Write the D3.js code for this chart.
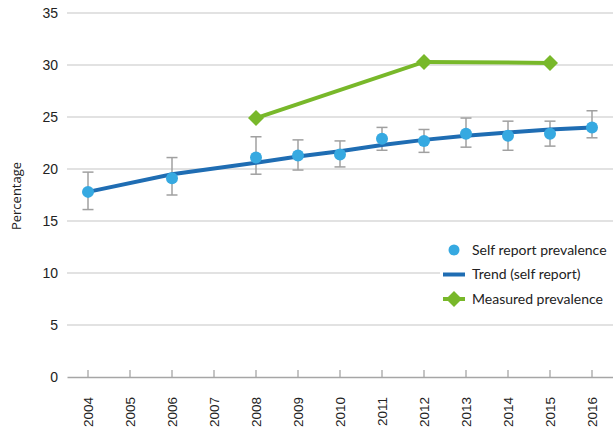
<!DOCTYPE html>
<html>
<head>
<meta charset="utf-8">
<script src="https://cdn.jsdelivr.net/npm/d3@7"></script>
<style>
  body { margin: 0; background: #fff; }
  svg { display: block; font-family: "Open Sans", "Noto Sans", sans-serif; }
</style>
</head>
<body>
<div id="chart"></div>
<script>
// Categories (years on the x axis)
var years = ["2004", "2005", "2006", "2007", "2008", "2009", "2010", "2011", "2012", "2013", "2014", "2015", "2016"];

// Self report prevalence with confidence interval
var selfYears = ["2004", "2006", "2008", "2009", "2010", "2011", "2012", "2013", "2014", "2015", "2016"];
var selfValues = [17.8, 19.1, 21.1, 21.3, 21.4, 22.9, 22.7, 23.4, 23.2, 23.4, 24.0];
var selfLow = [16.1, 17.5, 19.5, 19.9, 20.2, 21.8, 21.6, 22.1, 21.8, 22.2, 23.0];
var selfHigh = [19.7, 21.1, 23.1, 22.8, 22.7, 24.0, 23.8, 24.9, 24.6, 24.6, 25.6];

// Trend (self report)
var trendValues = [17.8, 19.5, 20.6, 21.2, 21.7, 22.3, 22.8, 23.2, 23.5, 23.8, 24.0];

// Measured prevalence
var measuredYears = ["2008", "2012", "2015"];
var measuredValues = [24.9, 30.3, 30.2];

var yTicks = [0, 5, 10, 15, 20, 25, 30, 35];
var legendLabels = ["Self report prevalence", "Trend (self report)", "Measured prevalence"];

var margin = {top: 13, right: 0, bottom: 59, left: 67},
    width = 613 - margin.left - margin.right,
    height = 436 - margin.top - margin.bottom;

var svg = d3.select("#chart").append("svg")
    .attr("width", 613)
    .attr("height", 436);

var g = svg.append("g")
    .attr("transform", "translate(" + margin.left + "," + margin.top + ")");

var x = d3.scaleBand().domain(years).range([0, width]);
var y = d3.scaleLinear().domain([0, 35]).range([height, 0]);
var cx = function(yr) { return x(yr) + x.bandwidth() / 2; };

// gridlines
g.selectAll(".grid")
    .data(yTicks.filter(function(d) { return d > 0; }))
    .enter().append("line")
    .attr("x1", 0).attr("x2", width)
    .attr("y1", function(d) { return y(d); })
    .attr("y2", function(d) { return y(d); })
    .attr("stroke", "#d9d9d9")
    .attr("stroke-width", 1.3);

// y axis labels
var yAxis = g.append("g")
    .call(d3.axisLeft(y).tickValues(yTicks).tickSize(0).tickPadding(9));
yAxis.select(".domain").remove();
yAxis.selectAll("text")
    .style("font-size", "14px")
    .attr("fill", "#222");

// x axis
var xAxis = g.append("g")
    .attr("transform", "translate(0," + height + ")")
    .call(d3.axisBottom(x).tickSize(0));
xAxis.select(".domain").attr("stroke", "#a6a6a6").attr("stroke-width", 1.3);
xAxis.selectAll(".tick line").remove();
xAxis.selectAll(".tick").append("line")
    .attr("y1", 0).attr("y2", -7)
    .attr("stroke", "#a6a6a6").attr("stroke-width", 1.3);
xAxis.selectAll("text")
    .style("font-size", "13.5px")
    .attr("fill", "#222")
    .attr("transform", "rotate(-90)")
    .attr("text-anchor", "end")
    .attr("x", -20)
    .attr("y", 0)
    .attr("dy", "0.35em");

// y axis title
svg.append("text")
    .attr("transform", "translate(21," + (margin.top + height / 2 + 1) + ") rotate(-90)")
    .attr("text-anchor", "middle")
    .style("font-size", "13px")
    .attr("fill", "#222")
    .text("Percentage");

// error bars
var errs = g.append("g");
selfYears.forEach(function(yr, i) {
    var px = cx(yr);
    errs.append("line")
        .attr("x1", px).attr("x2", px)
        .attr("y1", y(selfLow[i])).attr("y2", y(selfHigh[i]))
        .attr("stroke", "#a0a0a0").attr("stroke-width", 1.5);
    [selfLow[i], selfHigh[i]].forEach(function(v) {
        errs.append("line")
            .attr("x1", px - 5.5).attr("x2", px + 5.5)
            .attr("y1", y(v)).attr("y2", y(v))
            .attr("stroke", "#a0a0a0").attr("stroke-width", 1.5);
    });
});

// trend line
var line = d3.line()
    .x(function(d) { return cx(d[0]); })
    .y(function(d) { return y(d[1]); });

g.append("path")
    .datum(d3.zip(selfYears, trendValues))
    .attr("d", line)
    .attr("fill", "none")
    .attr("stroke", "#1f6db3")
    .attr("stroke-width", 4);

// self report points
g.selectAll(".self")
    .data(d3.zip(selfYears, selfValues))
    .enter().append("circle")
    .attr("cx", function(d) { return cx(d[0]); })
    .attr("cy", function(d) { return y(d[1]); })
    .attr("r", 6)
    .attr("fill", "#36a9e1");

// measured line
g.append("path")
    .datum(d3.zip(measuredYears, measuredValues))
    .attr("d", line)
    .attr("fill", "none")
    .attr("stroke", "#78b82a")
    .attr("stroke-width", 4);

g.selectAll(".meas")
    .data(d3.zip(measuredYears, measuredValues))
    .enter().append("path")
    .attr("d", "M0,-8L8,0L0,8L-8,0Z")
    .attr("transform", function(d) { return "translate(" + cx(d[0]) + "," + y(d[1]) + ")"; })
    .attr("fill", "#78b82a");

// legend
var legend = svg.append("g").attr("transform", "translate(440,238)");
legend.append("rect")
    .attr("x", 0).attr("y", 0)
    .attr("width", 173).attr("height", 72)
    .attr("fill", "#fff");

var rows = legend.selectAll(".row")
    .data(legendLabels)
    .enter().append("g")
    .attr("transform", function(d, i) { return "translate(0," + (12 + i * 24.5) + ")"; });

rows.append("text")
    .attr("x", 32)
    .attr("dy", "0.35em")
    .style("font-family", "Lato, sans-serif")
    .style("font-size", "14px")
    .attr("fill", "#222")
    .text(function(d) { return d; });

rows.filter(function(d, i) { return i === 0; }).append("circle")
    .attr("cx", 14).attr("cy", 0).attr("r", 5.5)
    .attr("fill", "#36a9e1");
rows.filter(function(d, i) { return i === 1; }).append("line")
    .attr("x1", 3).attr("x2", 25)
    .attr("stroke", "#1f6db3").attr("stroke-width", 4);
rows.filter(function(d, i) { return i === 2; }).append("line")
    .attr("x1", 3).attr("x2", 25)
    .attr("stroke", "#78b82a").attr("stroke-width", 4);
rows.filter(function(d, i) { return i === 2; }).append("path")
    .attr("d", "M0,-8L8,0L0,8L-8,0Z")
    .attr("transform", "translate(14,0)")
    .attr("fill", "#78b82a");
</script>
</body>
</html>
